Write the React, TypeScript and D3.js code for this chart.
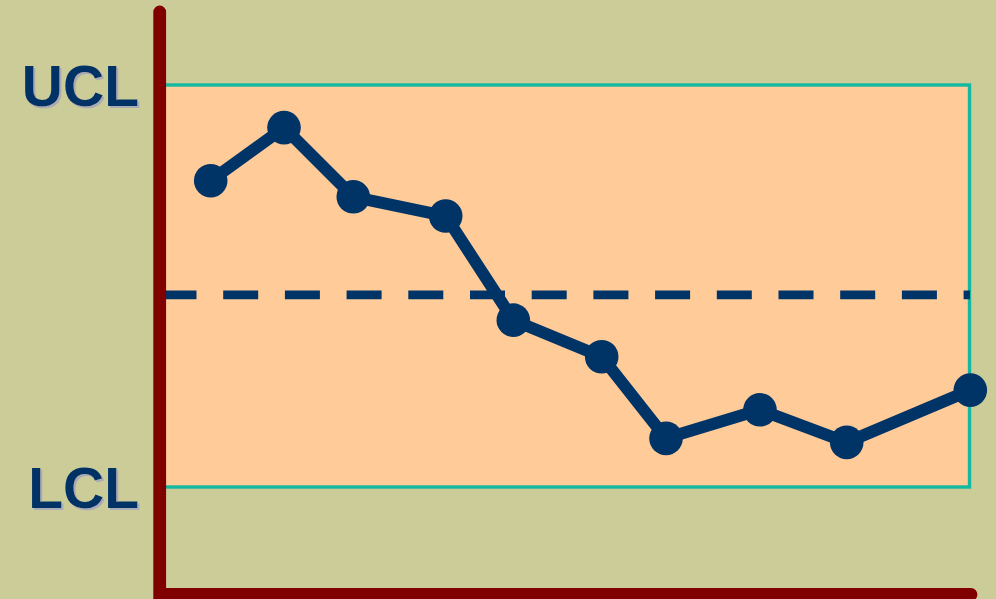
import React from "react";
import * as d3 from "d3";

// ---- data ----
const sampleX: number[] = [0.626, 1.531, 2.386, 3.527, 4.362, 5.453, 6.247, 7.407, 8.478, 10.004];
const sampleY: number[] = [76.2, 89.4, 72.2, 67.4, 41.5, 32.4, 12.1, 19.2, 11.1, 24.1];
const limitLabels: string[] = ["UCL", "LCL"];
const limitValues: number[] = [100, 0];
const centerValue: number[] = [47.8];

const W = 996;
const H = 599;

export default function App() {
  const x = d3.scaleLinear().domain([0, 10]).range([160, 970]);
  const y = d3.scaleLinear().domain([0, 100]).range([487, 85]);

  const line = d3
    .line<number>()
    .x((_, i) => x(sampleX[i]))
    .y((d) => y(d));

  const ucl = y(limitValues[0]);
  const lcl = y(limitValues[1]);
  const cl = y(centerValue[0]);

  const navy = "#003366";

  return (
    <svg
      width={W}
      height={H}
      style={{ position: "fixed", left: 0, top: 0, display: "block" }}
      fontFamily="'Liberation Sans', Arial, sans-serif"
    >
      <defs>
        <filter id="txtShadow" x="-10%" y="-10%" width="130%" height="130%">
          <feOffset in="SourceAlpha" dx="2" dy="2" result="off" />
          <feFlood floodColor="#a9abb6" result="col" />
          <feComposite in="col" in2="off" operator="in" result="sh" />
          <feMerge>
            <feMergeNode in="sh" />
            <feMergeNode in="SourceGraphic" />
          </feMerge>
        </filter>
      </defs>
      <rect x={0} y={0} width={W} height={H} fill="#CCCC99" />
      <rect
        x={x(0)}
        y={ucl}
        width={x(10) - x(0) - 0.5}
        height={lcl - ucl}
        fill="#FFCC99"
        stroke="#12B8A0"
        strokeWidth={3.4}
      />
      <line
        x1={161.5}
        x2={x(10)}
        y1={cl}
        y2={cl}
        stroke={navy}
        strokeWidth={8.6}
        strokeDasharray="35 26.7"
      />
      <path
        d={line(sampleY) || ""}
        fill="none"
        stroke={navy}
        strokeWidth={12}
        strokeLinejoin="round"
      />
      {sampleY.map((v, i) => (
        <circle key={i} cx={x(sampleX[i])} cy={y(v)} r={16.8} fill={navy} />
      ))}
      <path
        d={`M159.7,12 L159.7,594.5 L971,594.5`}
        fill="none"
        stroke="#800000"
        strokeWidth={12.8}
        strokeLinejoin="miter"
        strokeLinecap="round"
      />
      {limitLabels.map((lab, i) => {
        const yy = y(limitValues[i]) + 20.5;
        return (
          <text
            key={lab}
            x={139}
            y={yy}
            textAnchor="end"
            fontSize={57}
            fontWeight="bold"
            fill={navy}
            filter="url(#txtShadow)"
          >
            {lab}
          </text>
        );
      })}
    </svg>
  );
}
